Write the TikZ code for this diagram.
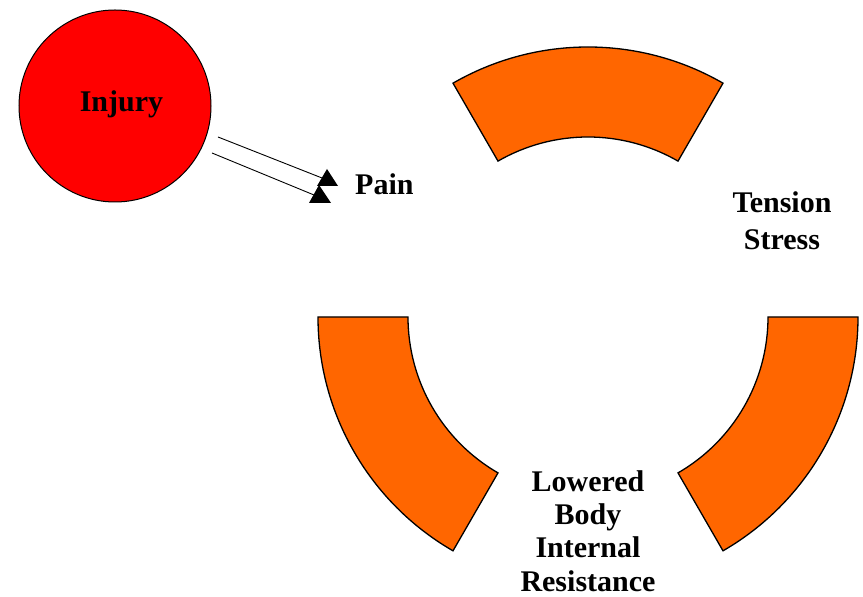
\documentclass[tikz,border=0pt]{standalone}
\usepackage{fontspec}
\setmainfont{Liberation Serif}
\usetikzlibrary{calc}
\definecolor{injred}{HTML}{FF0000}
\definecolor{segorange}{HTML}{FF6600}
\begin{document}
\begin{tikzpicture}[x=1pt,y=1pt,
  lbl/.style={font=\fontsize{30}{34}\selectfont\bfseries, inner sep=0pt, align=center},
  seg/.style={fill=segorange, draw=black, line width=1.3pt, line join=miter},
  conn/.style={draw=black, line width=0.9pt},
  tip/.style={fill=black}]
\useasboundingbox (0,0) rectangle (863,597);
% injury circle
\node[circle, fill=injred, draw=black, line width=1pt, minimum size=192pt, inner sep=0pt] (injury) at (115,491) {};
\node[lbl, anchor=base] (injurytxt) at (121.5,485) {Injury};
% pain
\node[lbl, anchor=base west] (pain) at (355,402) {Pain};
% arrows
\coordinate (a1s) at (218,460);
\coordinate (a1e) at (322,419);
\coordinate (a2s) at (212,444);
\coordinate (a2e) at (314,402);
\draw[conn] (a1s) -- (a1e);
\draw[conn] (a2s) -- (a2e);
\fill[tip] (327,428) -- (317,411) -- (338,411) -- cycle;
\fill[tip] (319,412) -- (309,394) -- (331,394) -- cycle;
% segments
\coordinate (c) at (588,280);
\draw[seg] ($(c)+(60:270)$) arc[start angle=60, end angle=120, radius=270pt]
  -- ($(c)+(120:180)$) arc[start angle=120, end angle=60, radius=180pt] -- cycle;
\draw[seg] ($(c)+(180:270)$) arc[start angle=180, end angle=240, radius=270pt]
  -- ($(c)+(240:180)$) arc[start angle=240, end angle=180, radius=180pt] -- cycle;
\draw[seg] ($(c)+(300:270)$) arc[start angle=300, end angle=360, radius=270pt]
  -- ($(c)+(360:180)$) arc[start angle=360, end angle=300, radius=180pt] -- cycle;
% labels
\node[lbl, anchor=base] (tension) at (782,384) {Tension};
\node[lbl, anchor=base] (stress) at (782,347) {Stress};
\node[lbl, anchor=base] (l1) at (588,105) {Lowered};
\node[lbl, anchor=base] (l2) at (588,72) {Body};
\node[lbl, anchor=base] (l3) at (588,39) {Internal};
\node[lbl, anchor=base] (l4) at (588,5) {Resistance};
\end{tikzpicture}
\end{document}
